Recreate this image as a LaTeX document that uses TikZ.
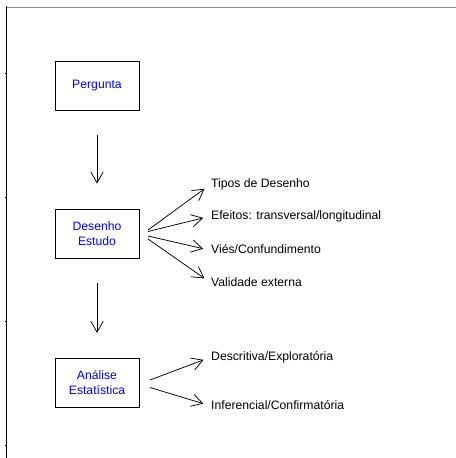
\documentclass[tikz,border=0pt]{standalone}
\usepackage{fontspec}
\setmainfont{Liberation Sans}
\usetikzlibrary{arrows.meta}
\begin{document}
\begin{tikzpicture}[x=1bp,y=-1bp,
  font=\fontsize{12.2bp}{14.5bp}\selectfont,
  stepbox/.style={draw=black,line width=0.8bp,minimum width=84bp,minimum height=49bp,inner sep=0pt,text=blue,align=center},
  lbl/.style={anchor=west,inner sep=0pt,text height=8.7bp,text depth=2.5bp},
  arr/.style={line width=0.75bp,-{Straight Barb[length=11bp,width=12.5bp,line width=0.75bp]}}]
\useasboundingbox (0,0) rectangle (456,458);
% frame
\draw[gray!90,line width=0.9bp] (6,7) -- (456,7);
\draw[black,line width=1.2bp] (6.5,6.5) -- (6.5,458);
\foreach \t in {73,197,321,445} \draw[line width=0.8bp] (5,\t) -- (6.5,\t);
% boxes
\node[stepbox] (p) at (97,85.5) {Pergunta};
\node[stepbox] (d) at (97,233.5) {Desenho\\Estudo};
\node[stepbox] (a) at (97,382.5) {Análise\\Estatística};
% labels
\node[lbl] (t1) at (211,184) {Tipos de Desenho};
\node[lbl] (t2) at (211,216) {Efeitos: transversal/longitudinal};
\node[lbl] (t3) at (211,250.5) {Viés/Confundimento};
\node[lbl] (t4) at (211,283) {Validade externa};
\node[lbl] (t5) at (211,357) {Descritiva/Exploratória};
\node[lbl] (t6) at (211,406) {Inferencial/Confirmatória};
% start points
\coordinate (d1) at (148,230);
\coordinate (d2) at (148,231.5);
\coordinate (d3) at (148,236);
\coordinate (d4) at (148,239);
\coordinate (a1) at (150,380);
\coordinate (a2) at (150,387.5);
% vertical arrows
\draw[arr,shorten <=25bp,shorten >=25bp] (p.south) -- (d.north);
\draw[arr,shorten <=25bp,shorten >=24.7bp] (d.south) -- (a.north);
% branch arrows
\foreach \s/\e in {d1/t1,d2/t2,d3/t3,d4/t4,a1/t5,a2/t6}
  \draw[arr,shorten >=8bp] (\s) -- (\e.west);
\end{tikzpicture}
\end{document}
